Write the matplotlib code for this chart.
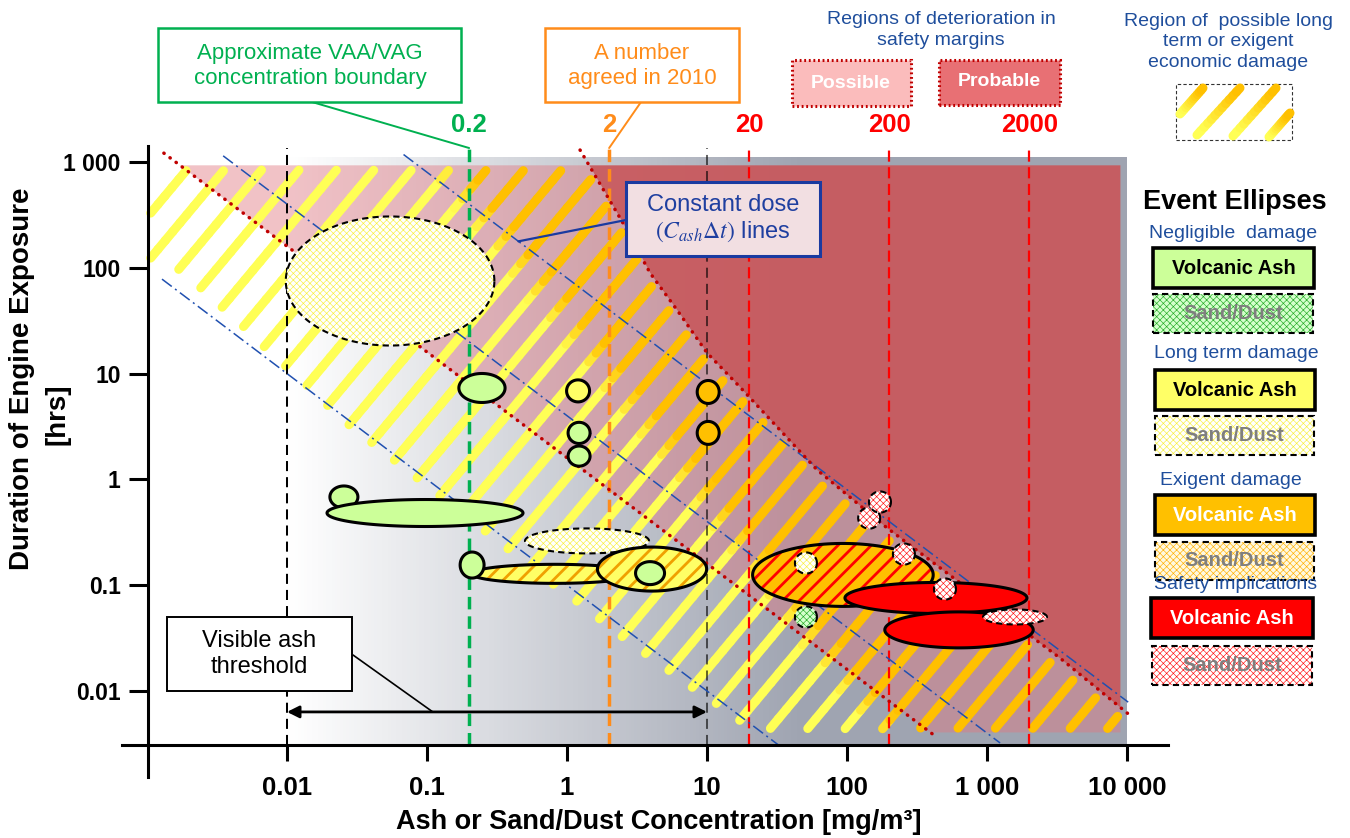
import numpy as np
import matplotlib.pyplot as plt
from matplotlib.patches import Rectangle, Polygon
from matplotlib.collections import LineCollection
from matplotlib.colors import LinearSegmentedColormap, to_rgb
from matplotlib.ticker import NullLocator

plt.rcParams['font.family'] = ['Liberation Sans', 'DejaVu Sans']
plt.rcParams['mathtext.fontset'] = 'stix'
plt.rcParams['hatch.linewidth'] = 1.0

W, H = 1350, 838

# ---------------- data ----------------
x_ticks = [0.01, 0.1, 1, 10, 100, 1000, 10000]
x_tick_labels = ['0.01', '0.1', '1', '10', '100', '1 000', '10 000']
y_ticks = [0.01, 0.1, 1, 10, 100, 1000]
y_tick_labels = ['0.01', '0.1', '1', '10', '100', '1 000']

# concentration thresholds [mg/m3]
thresh_x = [0.01, 0.2, 2, 10, 20, 200, 2000]
thresh_color = ['black', '#00b050', '#ff8c1a', 'black', '#ff0000', '#ff0000', '#ff0000']
thresh_label = [None, '0.2', '2', None, '20', '200', '2000']

# constant dose lines C*t and the concentration span drawn
dose_vals = [0.1, 4.0, 80.0]
dose_x0 = [0.00128, 0.0035, 0.068]
dose_x1 = [33, 1240, 10200]

# "possible" deterioration boundary (constant dose)
possible_dose = 1.6
possible_x = [0.00132, 440]

# "probable" deterioration boundary
probable_x = [1.24, 2.51, 3.92, 6.11, 10.0, 17.2, 61.1, 193, 3319, 10860]
probable_t = [1297, 265, 89.3, 39.9, 15.7, 7.46, 1.23, 0.348, 0.0205, 0.00568]

# lower edge of the economic damage hatched band
econ_lo_x = [0.00172, 0.00485, 0.0273, 0.355, 3.49, 22.8]
econ_lo_t = [95.3, 27.5, 3.27, 0.23, 0.0229, 0.00401]

# event ellipses: centre (conc, hours), size in decades, type
ell_conc = [0.0545, 0.247, 1.20, 10.2, 1.22, 1.22, 10.2, 0.0255, 0.0968, 1.39, 0.82, 0.21,
            4.05, 3.92, 50.9, 93.5, 50.9, 144, 172, 255, 432, 631, 501, 1585]
ell_hours = [75, 7.31, 6.86, 6.7, 2.75, 1.66, 2.75, 0.682, 0.481, 0.262, 0.128, 0.155,
             0.142, 0.130, 0.0501, 0.125, 0.162, 0.431, 0.611, 0.197, 0.0757, 0.0378, 0.092, 0.0501]
ell_wdec = [1.49, 0.33, 0.164, 0.157, 0.157, 0.157, 0.157, 0.2, 1.4, 0.886, 1.19, 0.171,
            0.78, 0.207, 0.157, 1.29, 0.157, 0.157, 0.157, 0.157, 1.3, 1.06, 0.157, 0.457]
ell_hdec = [1.22, 0.274, 0.208, 0.217, 0.2, 0.19, 0.217, 0.208, 0.255, 0.236, 0.18, 0.246,
            0.416, 0.217, 0.2, 0.595, 0.2, 0.2, 0.2, 0.2, 0.293, 0.34, 0.2, 0.142]
ell_kind = ['long_sand', 'neg_ash', 'long_ash', 'exig_ash', 'neg_ash', 'neg_ash', 'exig_ash',
            'neg_ash', 'neg_ash', 'long_sand', 'long_exig', 'neg_ash', 'long_exig', 'neg_ash',
            'neg_sand', 'exig_safe', 'long_sand', 'safe_sand', 'safe_sand', 'safe_sand',
            'safe_ash', 'safe_ash', 'safe_sand', 'safe_sand']

# extents of the shaded regions
grad_top, axis_t, axis_x = 1114, 0.0031, 0.001017
region_left, region_right, region_top, region_bot = 0.0013, 8900, 940, 0.0041
hatch_left, hatch_top, hatch_bot = 0.00106, 840, 0.0044
arrow_t = 0.00634

BLUE = '#1f4e9c'
CHECK = 'xxxxx'
DIAG = '//'
styles = {
    'neg_ash':   dict(fc='#ccff99', hatch=None, hc=None, hlw=1, ls='-', lw=2.2),
    'long_ash':  dict(fc='#ffff66', hatch=None, hc=None, hlw=1, ls='-', lw=2.2),
    'exig_ash':  dict(fc='#ffc000', hatch=None, hc=None, hlw=1, ls='-', lw=2.2),
    'safe_ash':  dict(fc='#ff0000', hatch=None, hc=None, hlw=1, ls='-', lw=2.2),
    'neg_sand':  dict(fc='#d4ffcc', hatch=CHECK, hc='#22aa22', hlw=0.45, ls=(0, (3, 2)), lw=1.5),
    'long_sand': dict(fc='#ffffff', hatch=CHECK, hc='#f8f040', hlw=0.45, ls=(0, (3, 2)), lw=1.5),
    'exig_sand': dict(fc='#fff8e0', hatch=CHECK, hc='#ffb000', hlw=0.45, ls=(0, (3, 2)), lw=1.5),
    'safe_sand': dict(fc='#ffffff', hatch=CHECK, hc='#ff1010', hlw=0.45, ls=(0, (3, 2)), lw=1.5),
    'long_exig': dict(fc='#ffff66', hatch=DIAG, hc='#f0a000', hlw=2.0, ls='-', lw=2.2),
    'exig_safe': dict(fc='#ffc000', hatch=DIAG, hc='#ff0000', hlw=2.0, ls='-', lw=2.2),
}


def fx(px):
    return px / W


def fy(py):
    return 1 - py / H


fig = plt.figure(figsize=(W / 100, H / 100), dpi=100)
ax = fig.add_axes([fx(122), fy(777), (1168 - 122) / W, (777 - 146) / H])
ax.set_xscale('log')
ax.set_yscale('log')
ax.set_xlim(6.63e-4, 1.963e4)
ax.set_ylim(1.538e-3, 1416)

# ---- grey gradient background ----
gx = np.logspace(-2, 4, 301)
gxc = np.sqrt(gx[:-1] * gx[1:])
dpx = ax.transData.transform(np.column_stack([gxc, np.ones_like(gxc)]))[:, 0]
p0 = ax.transData.transform((0.01, 1))[0]
p1 = ax.transData.transform((46, 1))[0]
gval = np.clip((dpx - p0) / (p1 - p0), 0, 1)
gcmap = LinearSegmentedColormap.from_list('gr', ['#ffffff', '#9fa4b1'])
ax.pcolormesh(gx, [axis_t, grad_top], gval[np.newaxis, :], cmap=gcmap, vmin=0, vmax=1,
              shading='flat', zorder=0)

# ---- possible / probable regions ----
lxg = np.linspace(np.log10(region_left), np.log10(region_right), 900)
top, bot = np.log10(region_top), np.log10(region_bot)
lower = np.clip(np.log10(possible_dose) - lxg, bot, top)
upper = np.clip(np.interp(lxg, np.log10(probable_x), np.log10(probable_t)), bot, top)
ax.fill_between(10 ** lxg, 10 ** lower, 10 ** upper, where=upper > lower, interpolate=True,
                color='#e07882', alpha=0.45, lw=0, zorder=2)
ax.fill_between(10 ** lxg, 10 ** upper, region_top, where=top > upper, interpolate=True,
                color='#c9575b', alpha=0.92, lw=0, zorder=2)

# ---- economic damage hatch band ----
k_s, db_s, b_s0 = 1.588, 0.425, 7.239
lxs = np.linspace(-3.05, 4.1, 1500)
lo_b = np.interp(lxs, np.log10(econ_lo_x), np.log10(econ_lo_t))
up_b = np.interp(lxs, np.log10(probable_x), np.log10(probable_t)) - 0.1
yel, org = np.array(to_rgb('#ffff55')), np.array(to_rgb('#ffc000'))
segs, cols = [], []
for i in range(40):
    ly = k_s * lxs + b_s0 - i * db_s
    m = ((ly <= np.log10(hatch_top)) & (ly >= np.log10(hatch_bot)) &
         (lxs >= np.log10(hatch_left)) & (ly >= lo_b) & (ly <= up_b))
    idx = np.flatnonzero(m)
    if idx.size < 2:
        continue
    n = max(2, (idx[-1] - idx[0]) // 12 + 2)
    sel = np.linspace(idx[0], idx[-1], n).round().astype(int)
    pts = np.column_stack([10 ** lxs[sel], 10 ** ly[sel]])
    d = ax.transData.transform(pts)
    s = d[:, 0] - (H - d[:, 1]) / 1.27
    for j in range(len(pts) - 1):
        tt = np.clip((0.5 * (s[j] + s[j + 1]) - 295) / 40, 0, 1)
        segs.append(pts[j:j + 2])
        cols.append(yel * (1 - tt) + org * tt)
ax.add_collection(LineCollection(segs, colors=cols, linewidths=6.5, capstyle='round', zorder=3))

# ---- threshold lines ----
vstyle = {
    'black': dict(lw=1.45, dashes=(5, 3)),
    '#00b050': dict(lw=2.5, dashes=(3.6, 2)),
    '#ff8c1a': dict(lw=2.5, dashes=(3.6, 2)),
    '#ff0000': dict(lw=1.6, dashes=(5, 2.5)),
}
for xv, c, lab in zip(thresh_x, thresh_color, thresh_label):
    st = vstyle[c]
    alpha = 0.6 if (c == 'black' and xv > 1) else 1
    ax.plot([xv, xv], [axis_t, 1355], color=c, lw=st['lw'], dashes=st['dashes'],
            alpha=alpha, zorder=3.5)
    if lab:
        ax.text(xv, 2240, lab, color=c, fontsize=18.5, fontweight='bold',
                ha='center', va='center', clip_on=False)

# ---- dose lines and deterioration boundaries ----
for dv, xa, xb in zip(dose_vals, dose_x0, dose_x1):
    xx = np.array([xa, xb])
    ax.plot(xx, dv / xx, color='#2050b0', lw=1.1, dashes=(8, 2.7, 1.3, 2.7), zorder=4)
xx = np.array(possible_x)
ax.plot(xx, possible_dose / xx, color='#c00000', lw=2.5, dashes=(0.1, 2.1),
        dash_capstyle='round', zorder=4)
ax.plot(probable_x, probable_t, color='#c00000', lw=2.5, dashes=(0.1, 2.1),
        dash_capstyle='round', zorder=4)


# ---- event ellipses ----
def ellipse_pts(c, t, wd, hd, n=160):
    a = np.linspace(0, 2 * np.pi, n)
    return np.column_stack([c * 10 ** (wd / 2 * np.cos(a)), t * 10 ** (hd / 2 * np.sin(a))])


def add_shape(target, make, kind, z):
    st = styles[kind]
    if st['hatch']:
        with plt.rc_context({'hatch.linewidth': st['hlw']}):
            p = make(fc=st['fc'], ec=st['hc'], lw=0, hatch=st['hatch'], zorder=z)
        if hasattr(p, 'set_hatch_linewidth'):
            p.set_hatch_linewidth(st['hlw'])
        target(p)
        target(make(fc='none', ec='black', lw=st['lw'], ls=st['ls'], zorder=z + 0.005))
    else:
        target(make(fc=st['fc'], ec='black', lw=st['lw'], ls=st['ls'], zorder=z))


for i, (c, t, wd, hd, kind) in enumerate(zip(ell_conc, ell_hours, ell_wdec, ell_hdec, ell_kind)):
    xy = ellipse_pts(c, t, wd, hd)
    add_shape(ax.add_patch, lambda **kw: Polygon(xy, closed=True, **kw), kind, 6 + 0.01 * i)

# ---- axes styling ----
for side in ['top', 'right']:
    ax.spines[side].set_visible(False)
ax.spines['left'].set_position(('data', axis_x))
ax.spines['bottom'].set_position(('data', axis_t))
for side in ['left', 'bottom']:
    ax.spines[side].set_linewidth(2.2)
    ax.spines[side].set_zorder(5)
ax.set_xticks(x_ticks)
ax.set_xticklabels(x_tick_labels, fontsize=18.5, fontweight='bold')
ax.set_yticks(y_ticks)
ax.set_yticklabels(y_tick_labels, fontsize=16.5, fontweight='bold')
ax.xaxis.set_minor_locator(NullLocator())
ax.yaxis.set_minor_locator(NullLocator())
ax.tick_params(axis='x', direction='out', length=11.5, width=2.2, pad=11)
ax.tick_params(axis='y', direction='out', length=13.7, width=2.2, pad=6)

fig.text(fx(659), fy(822), 'Ash or Sand/Dust Concentration [mg/m\u00b3]', fontsize=19.5,
         fontweight='bold', ha='center', va='center')
fig.text(fx(22), fy(379), 'Duration of Engine Exposure', rotation=90, fontsize=20,
         fontweight='bold', ha='center', va='center')
fig.text(fx(58), fy(414), '[hrs]', rotation=90, fontsize=20, fontweight='bold',
         ha='center', va='center')


# ---- boxes and callouts ----
def fig_rect(x0, y0, x1, y1, **kw):
    return Rectangle((fx(x0), fy(y1)), (x1 - x0) / W, (y1 - y0) / H,
                     transform=fig.transFigure, **kw)


def plain_box(x0, y0, x1, y1, fc, ec, lw, ls='-'):
    fig.add_artist(fig_rect(x0, y0, x1, y1, fc=fc, ec=ec, lw=lw, ls=ls, zorder=10))


def callout(px, py, xy, color, lw=1.4):
    ax.annotate('', xy=xy, xycoords='data', xytext=(fx(px), fy(py)),
                textcoords='figure fraction', annotation_clip=False,
                arrowprops=dict(arrowstyle='-', color=color, lw=lw, shrinkA=0, shrinkB=0),
                zorder=9)


plain_box(158, 28, 461, 102, 'white', '#00b050', 1.8)
fig.text(fx(310), fy(66), 'Approximate VAA/VAG\nconcentration boundary', color='#00b050',
         fontsize=16, ha='center', va='center', zorder=11)
callout(312, 102, (0.2, 1355), '#00b050')

plain_box(545, 28, 739, 102, 'white', '#ff8c1a', 1.8)
fig.text(fx(642), fy(66), 'A number\nagreed in 2010', color='#ff8c1a',
         fontsize=16, ha='center', va='center', zorder=11)
callout(641, 102, (2, 1355), '#ff8c1a')

plain_box(626, 182, 820, 256, '#f2dfe2', '#1a3aa0', 2.2)
fig.text(fx(723), fy(219), 'Constant dose\n$(C_{ash}\\Delta t)$ lines', color='#1f3fa0',
         fontsize=17, ha='center', va='center', zorder=11)
callout(626, 220, (0.45, dose_vals[2] / 0.45), '#1a3aa0', lw=1.6)

plain_box(167, 617, 352, 691, 'white', 'black', 1.4)
fig.text(fx(259), fy(654), 'Visible ash\nthreshold', color='black',
         fontsize=17, ha='center', va='center', zorder=11)
callout(353, 655, (0.11, arrow_t), 'black', lw=1.2)
ax.annotate('', xy=(10, arrow_t), xytext=(0.01, arrow_t), xycoords='data',
            arrowprops=dict(arrowstyle='<|-|>', color='black', lw=2, mutation_scale=18,
                            shrinkA=0, shrinkB=0), zorder=9)

# ---- top right legend ----
fig.text(fx(941), fy(30), 'Regions of deterioration in\nsafety margins', color=BLUE,
         fontsize=14, ha='center', va='center', linespacing=1.25)
plain_box(792, 60, 911, 106, '#fbbcbc', '#c00000', 2.2, ls=(0, (0.6, 0.9)))
fig.text(fx(851), fy(83), 'Possible', color='white', fontsize=14, fontweight='bold',
         ha='center', va='center', zorder=11)
plain_box(939, 60, 1060, 105, '#e87074', '#c00000', 2.2, ls=(0, (0.6, 0.9)))
fig.text(fx(999), fy(82), 'Probable', color='white', fontsize=14, fontweight='bold',
         ha='center', va='center', zorder=11)

fig.text(fx(1228), fy(42), 'Region of  possible long\nterm or exigent\neconomic damage',
         color=BLUE, fontsize=14, ha='center', va='center', linespacing=1.25)
plain_box(1176, 84, 1292, 140, 'none', '#333333', 0.8, ls=(0, (3, 2)))
leg_stripes = [(1180, 114, 1203, 88), (1197, 135, 1240, 88), (1233, 136, 1276, 88),
               (1269, 137, 1290, 113)]
lsegs, lcols = [], []
for x0, y0, x1, y1 in leg_stripes:
    tt = np.linspace(0, 1, 13)
    px_ = x0 + (x1 - x0) * tt
    py_ = y0 + (y1 - y0) * tt
    for j in range(len(tt) - 1):
        lsegs.append([(fx(px_[j]), fy(py_[j])), (fx(px_[j + 1]), fy(py_[j + 1]))])
        w = np.clip(tt[j] * 1.3 - 0.15, 0, 1)
        lcols.append(yel * (1 - w) + org * w)
fig.add_artist(LineCollection(lsegs, colors=lcols, linewidths=6.5, capstyle='round',
                              transform=fig.transFigure, zorder=11))

# ---- event ellipse legend ----
fig.text(fx(1235), fy(202), 'Event Ellipses', fontsize=19.5, fontweight='bold',
         ha='center', va='center')
leg_heads = [('Negligible  damage', 1233, 233), ('Long term damage', 1236, 353),
             ('Exigent damage', 1231, 480)]
for s_, x_, y_ in leg_heads:
    fig.text(fx(x_), fy(y_), s_, color=BLUE, fontsize=14, ha='center', va='center', zorder=12)

ash_boxes = [(1153, 248, 1314, 288, 'neg_ash', 'black'), (1155, 370, 1315, 410, 'long_ash', 'black'),
             (1155, 495, 1315, 535, 'exig_ash', 'white'), (1151, 598, 1313, 638, 'safe_ash', 'white')]
sand_boxes = [(1153, 294, 1313, 333, 'neg_sand'), (1155, 416, 1314, 455, 'long_sand'),
              (1155, 542, 1314, 580, 'exig_sand'), (1152, 646, 1312, 685, 'safe_sand')]
for x0, y0, x1, y1, kind, tc in ash_boxes:
    fig.add_artist(fig_rect(x0, y0, x1, y1, fc=styles[kind]['fc'], ec='black', lw=2.6, zorder=10))
    fig.text(fx((x0 + x1) / 2), fy((y0 + y1) / 2), 'Volcanic Ash', color=tc, fontsize=14.5,
             fontweight='bold', ha='center', va='center', zorder=12)
for x0, y0, x1, y1, kind in sand_boxes:
    add_shape(fig.add_artist, lambda **kw: fig_rect(x0, y0, x1, y1, **kw), kind, 10)
    fig.text(fx((x0 + x1) / 2), fy((y0 + y1) / 2), 'Sand/Dust', color='#7f7f7f', fontsize=14.5,
             fontweight='bold', ha='center', va='center', zorder=12)
fig.text(fx(1236), fy(584), 'Safety implications', color=BLUE, fontsize=14,
         ha='center', va='center', zorder=12)

fig.savefig('out.png', dpi=100)
